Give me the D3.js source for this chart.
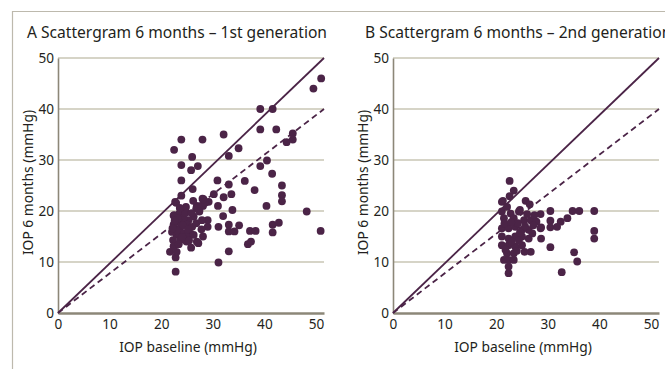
<!DOCTYPE html>
<html>
<head>
<meta charset="utf-8">
<script src="https://cdn.jsdelivr.net/npm/d3@7"></script>
<style>
  body { margin: 0; background: #fff; }
  text { font-family: "Noto Sans", sans-serif; fill: #231f20; }
</style>
</head>
<body>
<div id="chart"></div>
<script>
// panel A: 1st generation, [baseline, 6 months]
const genA = [
  [51, 46], [49.5, 44], [39.2, 40], [41.6, 40], [39.2, 36], [42.3, 36], [45.5, 35.2], [44.3, 33.5],
  [45.5, 34], [32.1, 35], [28, 34], [23.9, 34], [22.5, 32], [26, 30.6], [35, 32.3], [33.1, 30.8],
  [23.9, 29], [25.8, 28], [27.1, 28.8], [39.2, 28.8], [40.5, 29.9], [41.5, 27.3], [23.9, 26], [30.9, 26],
  [33.1, 25.2], [36.2, 25.9], [43.4, 25], [26.1, 24.3], [38.1, 24.1], [33.6, 23.3], [43.4, 23.1], [43.4, 21.9],
  [23.9, 23], [30.2, 23.3], [22.7, 21.8], [28, 22.4], [29.2, 21.8], [32.1, 22.7], [31, 21], [26.9, 21],
  [28.1, 21], [27.4, 20.2], [33.8, 20.2], [40.4, 21], [48.2, 19.9], [32, 19], [29, 18.2], [29, 16.9],
  [31.1, 16.9], [33.1, 17.3], [35.1, 17.2], [33.1, 16], [34.2, 16], [37.2, 16.1], [38.3, 16.1], [41.6, 17.3],
  [42.8, 17.7], [41.6, 15.8], [50.9, 16.1], [36.8, 13.5], [37.4, 14], [33.1, 12.1], [31.1, 9.9], [25.8, 12.8],
  [26.9, 14], [28.1, 15], [24.9, 14], [22.8, 8.1], [22.8, 10.9], [21.7, 12], [23, 12],
  [22.5, 19.2], [23.5, 19.5], [24.7, 19.9], [26.8, 20.5], [27.7, 21], [28.5, 21.6], [28.2, 22.3], [27.4, 19.9],
  [26.3, 18.9], [25.3, 18.2], [24.3, 18.6], [23.4, 17.9], [22.4, 17.3], [23.8, 16.9], [25, 17.3], [26, 16.9],
  [26.8, 17.6], [27.9, 18.2], [25.6, 15.6], [24.3, 15.6], [23, 15.3], [22.1, 15.9], [22.3, 14.3], [23.7, 14.3],
  [25, 15], [26.3, 15.3], [22.4, 13.1], [27.2, 13.7], [22.9, 21.6], [22.4, 19.1], [24.7, 19.6],
  [23.2, 18.5], [24.2, 17.2], [25.2, 16.4], [23.1, 16.2], [24.1, 14.9], [22.6, 18.1], [25.9, 19.6], [24.8, 20.8],
  [23.6, 20.6], [26.2, 22], [22.2, 16.6], [25.4, 14.2], [23.4, 13.5], [27.8, 16.4]
];

// panel B: 2nd generation, [baseline, 6 months]
const genB = [
  [22.6, 25.9], [23.4, 24], [22.6, 22.9], [21.3, 22], [25.7, 22], [26.5, 21.3], [24.6, 20.2], [28.6, 19.4],
  [30.5, 20], [34.8, 20], [36.1, 20], [39, 20], [33.8, 18.6], [32.5, 17.9], [30.5, 18.1], [30.5, 16.8],
  [31.8, 16.9], [28.7, 16.8], [28.7, 14.6], [39, 16.1], [39, 14.6], [30.5, 12.9], [35.1, 11.9], [35.7, 10.1],
  [32.7, 8], [21.5, 10.4], [22.4, 9.1], [22.4, 7.8], [26.7, 12], [25.5, 12],
  [21.1, 21.8], [21.1, 19.9], [22.1, 20.8], [22.8, 19.5], [21.5, 18.6], [23.4, 18.6], [24.4, 19.9], [25.4, 18.2],
  [26.7, 18.2], [27.8, 17.9], [21.1, 16.6], [22.4, 16.6], [23.7, 16.9], [25, 16.3], [26.3, 16.3], [21.1, 15],
  [22.4, 14.6], [23.7, 15], [25, 15], [26.3, 14.6], [21.1, 13.3], [22.4, 13.3], [23.7, 13], [25, 13.3],
  [22.1, 11.7], [23.4, 11.7], [22.4, 10.4], [23.4, 10.4], [28.6, 16.6], [24.2, 17.6], [26, 19.4], [27, 15.6],
  [21.6, 17.6], [22.9, 17.8], [24.6, 15.8], [23, 14], [24.4, 14.2], [25.6, 17], [27.2, 17.2], [21.8, 12.4],
  [27.4, 19.2], [24, 12.2]
];

const titles = ['A  Scattergram 6 months \u2013 1st generation', 'B  Scattergram 6 months \u2013 2nd generation'];
const ticks = [0, 10, 20, 30, 40, 50];
const xMax = 51.55;
// reference lines: [x0, y0, x1, y1]
const solidLine = [0, 0, xMax, 50];
const dashLine = [0, 0, xMax, 40];

const W = 665, H = 369;
const svg = d3.select('#chart').append('svg').attr('width', W).attr('height', H);

// frame
svg.append('line').attr('x1', 12).attr('x2', W).attr('y1', 11.5).attr('y2', 11.5)
  .attr('stroke', '#bdb9ad').attr('stroke-width', 1.2);
svg.append('line').attr('x1', 12.5).attr('x2', 12.5).attr('y1', 11).attr('y2', H)
  .attr('stroke', '#bdb9ad').attr('stroke-width', 1.2);

const pw = 266, ph = 255;
const x = d3.scaleLinear().domain([0, xMax]).range([0, pw]);
const y = d3.scaleLinear().domain([0, 50]).range([ph, 0]);
const dotColor = '#4b2447';

function panel(left, top, data, title, titleX) {
  const g = svg.append('g').attr('transform', `translate(${left},${top})`);

  svg.append('text').attr('x', titleX).attr('y', 38).attr('font-size', 15.6).text(title);

  // gridlines
  g.selectAll('.grid').data(ticks.slice(1)).enter().append('line')
    .attr('x1', 0).attr('x2', pw).attr('y1', d => y(d)).attr('y2', d => y(d))
    .attr('stroke', '#c9c6b5').attr('stroke-width', 1.5);

  const yAxis = g.append('g').call(d3.axisLeft(y).tickValues(ticks).tickSize(0).tickPadding(4));
  yAxis.select('.domain').attr('stroke', '#8c8778').attr('stroke-width', 1.6);
  yAxis.selectAll('text').attr('font-size', 13.6).attr('fill', '#231f20');

  const xAxis = g.append('g').attr('transform', `translate(0,${ph})`)
    .call(d3.axisBottom(x).tickValues(ticks).tickSize(0).tickPadding(6));
  xAxis.select('.domain').attr('stroke', '#8c8778').attr('stroke-width', 2.6);
  xAxis.selectAll('text').attr('font-size', 13.6).attr('fill', '#231f20');

  g.append('text').attr('x', x(25.2)).attr('y', ph + 39).attr('text-anchor', 'middle')
    .attr('font-size', 13.8).text('IOP baseline (mmHg)');
  g.append('text').attr('transform', `translate(-25,${ph / 2 - 3}) rotate(-90)`)
    .attr('text-anchor', 'middle').attr('font-size', 13.8).text('IOP 6 months (mmHg)');

  [[solidLine, null], [dashLine, '6,4']].forEach(([l, dash]) => {
    g.append('line')
      .attr('x1', x(l[0])).attr('y1', y(l[1])).attr('x2', x(l[2])).attr('y2', y(l[3]))
      .attr('stroke', dotColor).attr('stroke-width', 1.8)
      .attr('stroke-dasharray', dash);
  });

  g.selectAll('circle').data(data).enter().append('circle')
    .attr('cx', d => x(d[0])).attr('cy', d => y(d[1])).attr('r', 3.9)
    .attr('fill', dotColor);
}

panel(58, 58, genA, titles[0], 27);
panel(393, 58, genB, titles[1], 365);
</script>
</body>
</html>
